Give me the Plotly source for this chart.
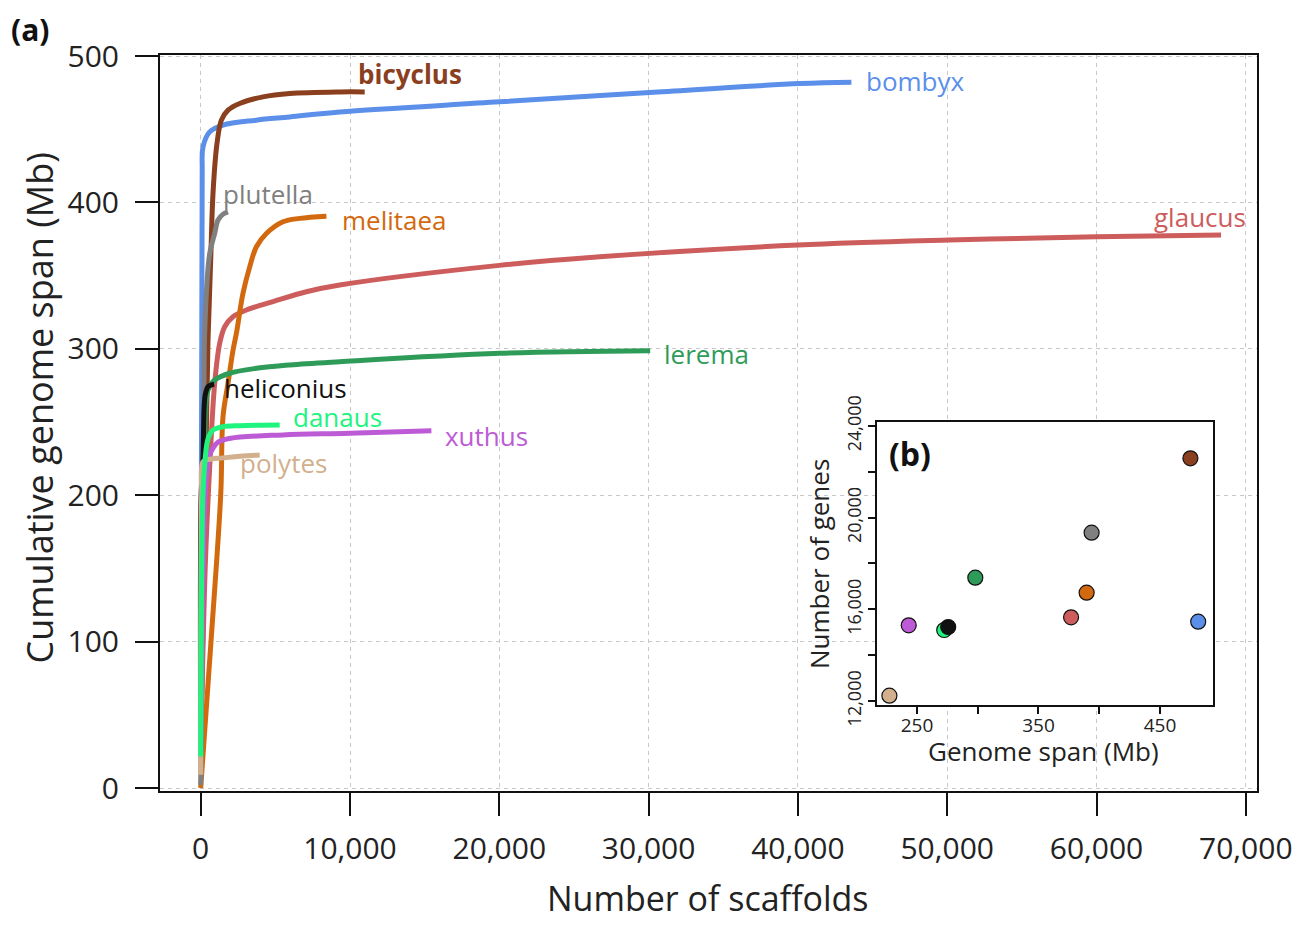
import plotly.graph_objects as go

# ---------------- data ----------------
species = ["bombyx", "bicyclus", "glaucus", "melitaea", "lerema", "plutella",
           "heliconius", "xuthus", "polytes", "danaus"]

bombyx_scaffolds = [0, 100, 154, 603, 1494, 3731, 5961, 9310, 20027, 30074, 40120, 43583]
bombyx_span = [20, 420, 437.9, 448.2, 452.8, 456.2, 458.4, 461.8, 468.7, 475.1, 481.2, 482.1]

bicyclus_scaffolds = [0, 300, 489, 670, 824, 1092, 1386, 1829, 2612, 4173, 5961, 9310, 10985]
bicyclus_span = [25, 200, 305.9, 360.6, 406.1, 440.3, 456.2, 463.0, 467.6, 472.1, 474.4, 475.5, 475.5]

glaucus_scaffolds = [0, 300, 603, 938, 1273, 1608, 2163, 3061, 4843, 7079, 9310, 20000,
                     26725, 39987, 50140, 60013, 68340]
glaucus_span = [20, 150, 219.5, 276.5, 303.8, 315.1, 321.9, 326.5, 332.2, 339.0, 343.6, 357.0,
                362.9, 370.9, 374.3, 376.5, 377.7]

melitaea_scaffolds = [0, 690, 1340, 1494, 1829, 2166, 2391, 2833, 3282, 3731, 4400, 5512, 6631, 8420]
melitaea_span = [0, 100, 200, 253.6, 276.4, 299.1, 310.6, 337.9, 356.0, 369.7, 378.8, 386.8, 389.1, 390.6]

lerema_scaffolds = [0, 250, 491, 938, 1942, 3731, 5961, 9310, 20027, 30107]
lerema_span = [25, 225, 271.9, 278.7, 283.3, 286.7, 289.0, 291.2, 296.9, 298.7]

plutella_scaffolds = [0, 200, 270, 600, 938, 1160, 1500, 1829]
plutella_span = [2, 200, 312, 365, 378.8, 388, 392, 393.6]

heliconius_scaffolds = [0, 30, 154, 230, 300, 489, 700, 900]
heliconius_span = [25, 200, 226.4, 260, 268.5, 274.1, 275.3, 275.8]

xuthus_scaffolds = [0, 300, 489, 603, 824, 1150, 2000, 5512, 9980, 15452]
xuthus_span = [25, 200, 221.8, 227.5, 232.1, 236.2, 238.9, 241.2, 242.3, 244.1]

polytes_scaffolds = [0, 60, 154, 489, 1494, 2612, 3952]
polytes_span = [9, 200, 222.9, 224.3, 225.5, 226.6, 227.5]

danaus_scaffolds = [0, 150, 300, 430, 603, 824, 1494, 2612, 5291]
danaus_span = [21.6, 200, 225, 236, 241.5, 244.6, 246.8, 247.5, 247.9]

# inset (b): genome span vs number of genes
inset_species = ["bicyclus", "plutella", "lerema", "melitaea", "glaucus", "bombyx",
                 "xuthus", "danaus", "heliconius", "polytes"]
inset_span = [475.0, 393.7, 298.0, 389.6, 376.8, 481.4, 243.2, 272.4, 275.7, 227.3]
inset_genes = [22590, 19345, 17380, 16726, 15652, 15461, 15303, 15098, 15229, 12233]

x_ticks = [0, 10000, 20000, 30000, 40000, 50000, 60000, 70000]
y_ticks = [0, 100, 200, 300, 400, 500]
inset_x_ticks = [250, 300, 350, 400, 450]
inset_x_text = ["250", "", "350", "", "450"]
inset_y_ticks = [12000, 14000, 16000, 18000, 20000, 22000, 24000]
inset_y_text = ["12,000", "", "16,000", "", "20,000", "", "24,000"]

# label positions (data coords) for curve names
label_pos = {
    "bicyclus": (10430, 487.6),
    "bombyx": (44410, 483.0),
    "plutella": (1386, 406.0),
    "melitaea": (9357, 388.0),
    "glaucus": (63690, 390.0),
    "lerema": (30900, 296.6),
    "heliconius": (1450, 273.0),
    "danaus": (6070, 253.4),
    "xuthus": (16200, 240.5),
    "polytes": (2500, 222.0),
}

colors = {
    "bicyclus": "#8A3F1E",
    "bombyx": "#5B8FE9",
    "plutella": "#808080",
    "melitaea": "#D2690F",
    "glaucus": "#CD5C5C",
    "lerema": "#2E9B59",
    "heliconius": "#111111",
    "danaus": "#1EF47E",
    "xuthus": "#BD5BD6",
    "polytes": "#D2B08E",
}

curves = {
    "bombyx": (bombyx_scaffolds, bombyx_span),
    "bicyclus": (bicyclus_scaffolds, bicyclus_span),
    "glaucus": (glaucus_scaffolds, glaucus_span),
    "melitaea": (melitaea_scaffolds, melitaea_span),
    "lerema": (lerema_scaffolds, lerema_span),
    "plutella": (plutella_scaffolds, plutella_span),
    "heliconius": (heliconius_scaffolds, heliconius_span),
    "xuthus": (xuthus_scaffolds, xuthus_span),
    "polytes": (polytes_scaffolds, polytes_span),
    "danaus": (danaus_scaffolds, danaus_span),
}

FONT = "Open Sans"
TXT = "#222222"

fig = go.Figure()

for sp in species:
    xs, ys = curves[sp]
    fig.add_trace(go.Scatter(
        x=xs, y=ys, mode="lines",
        line=dict(color=colors[sp], width=5, shape="spline", smoothing=1.0),
        showlegend=False, hoverinfo="skip", xaxis="x", yaxis="y"))

fig.add_trace(go.Scatter(
    x=inset_span, y=inset_genes, mode="markers",
    marker=dict(size=15, color=[colors[s] for s in inset_species],
                line=dict(color="#111111", width=1.2)),
    showlegend=False, xaxis="x2", yaxis="y2"))

annotations = []
for sp in species:
    lx, ly = label_pos[sp]
    annotations.append(dict(
        x=lx, y=ly, xref="x", yref="y", xanchor="left", yanchor="middle",
        text=("<b>%s</b>" % sp) if sp == "bicyclus" else sp, showarrow=False,
        font=dict(family=FONT, size=26, color=colors[sp])))

annotations += [
    dict(x=-0.1094, y=0.521, xref="paper", yref="paper", text="Cumulative genome span (Mb)",
         textangle=-90, showarrow=False, font=dict(family=FONT, size=36, color=TXT),
         xanchor="center", yanchor="middle"),
    dict(x=0.4995, y=-0.1454, xref="paper", yref="paper", text="Number of scaffolds",
         showarrow=False, font=dict(family=FONT, size=34, color=TXT),
         xanchor="center", yanchor="middle"),
    dict(x=-0.1185, y=1.034, xref="paper", yref="paper", text="<b>(a)</b>",
         showarrow=False, font=dict(family=FONT, size=30, color="#111111"),
         xanchor="center", yanchor="middle"),
    dict(x=0.6837, y=0.4579, xref="paper", yref="paper", text="<b>(b)</b>",
         showarrow=False, font=dict(family=FONT, size=32, color="#111111"),
         xanchor="center", yanchor="middle"),
    dict(x=0.6007, y=0.3084, xref="paper", yref="paper", text="Number of genes",
         textangle=-90, showarrow=False, font=dict(family=FONT, size=26, color=TXT),
         xanchor="center", yanchor="middle"),
    dict(x=0.8058, y=0.0545, xref="paper", yref="paper", text="Genome span (Mb)",
         showarrow=False, font=dict(family=FONT, size=26, color=TXT),
         xanchor="center", yanchor="middle"),
]

shapes = [dict(type="rect", xref="x2 domain", yref="y2 domain", x0=0, x1=1, y0=0, y1=1,
               fillcolor="#f0f0f0", line=dict(width=0), layer="below")]

grid = dict(showgrid=True, gridcolor="#c8c8c8", gridwidth=1.3, griddash="4px,4px")

# the page body has an 8px margin, so the figure is 8px smaller and margins shifted
fig.update_layout(
    width=1297, height=919,
    margin=dict(l=152, r=48, t=47, b=136),
    paper_bgcolor="white", plot_bgcolor="white",
    font=dict(family=FONT, color=TXT),
    annotations=annotations, shapes=shapes,
    xaxis=dict(range=[-2726, 70750], domain=[0, 1], tickvals=x_ticks, tickformat=",d",
               ticks="outside", ticklen=23, tickwidth=2, tickcolor="#111111",
               showline=True, linecolor="#111111", linewidth=2, mirror=True,
               zeroline=False, tickfont=dict(size=30, color=TXT), ticklabelstandoff=7,
               **grid),
    yaxis=dict(range=[-2.05, 500.7], domain=[0, 1], tickvals=y_ticks,
               ticks="outside", ticklen=23, tickwidth=2, tickcolor="#111111",
               showline=True, linecolor="#111111", linewidth=2, mirror=True,
               zeroline=False, tickfont=dict(size=30, color=TXT), ticklabelstandoff=10,
               **grid),
    xaxis2=dict(range=[217.1, 493.6], domain=[0.6536, 0.9599], anchor="y2",
                tickvals=inset_x_ticks, ticktext=inset_x_text,
                ticks="outside", ticklen=7, tickwidth=1.5, tickcolor="#111111",
                showline=True, linecolor="#111111", linewidth=2, mirror=True,
                showgrid=False, zeroline=False, tickfont=dict(size=19, color=TXT),
                ticklabelstandoff=-5),
    yaxis2=dict(range=[11825, 24175], domain=[0.1168, 0.5014], anchor="x2",
                tickvals=inset_y_ticks, ticktext=inset_y_text, tickangle=-90,
                ticks="outside", ticklen=7, tickwidth=1.5, tickcolor="#111111",
                showline=True, linecolor="#111111", linewidth=2, mirror=True,
                showgrid=False, zeroline=False, tickfont=dict(size=18, color=TXT)),
)

fig.write_html("out.html")
